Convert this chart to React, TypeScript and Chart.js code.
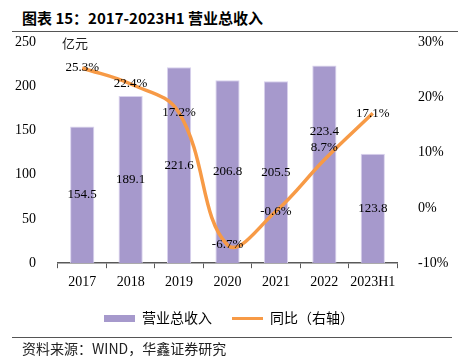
import React, { useEffect, useRef } from "react";
import { Chart, registerables } from "chart.js";
Chart.register(...registerables);

const titleText = "图表 15：2017-2023H1 营业总收入";
const sourceText = "资料来源：WIND，华鑫证券研究";
const unitText = "亿元";
const categories = ["2017", "2018", "2019", "2020", "2021", "2022", "2023H1"];
const revenue = [154.5, 189.1, 221.6, 206.8, 205.5, 223.4, 123.8];
const yoy = [25.3, 22.4, 17.2, -6.7, -0.6, 8.7, 17.1];
const seriesNames = ["营业总收入", "同比（右轴）"];
const leftRange = [0, 250];
const leftStep = 50;
const rightRange = [-10, 30];
const rightStep = 10;

const BAR_COLOR = "#a699cc";
const LINE_COLOR = "#f79a46";
const SERIF = '"Liberation Serif", "Times New Roman", serif';
const CJK = '"Noto Sans CJK SC", "Noto Sans", sans-serif';

// label vertical nudges (px), styling only
const barLabelNudge = [0, 0, 0, 0, 0, -33, 0];
const lineLabelNudge = [0, 0, 0, 0, 0, -12, 0];

function makeSwatch(w: number, h: number, color: string) {
  const c = document.createElement("canvas");
  c.width = w;
  c.height = h;
  const g = c.getContext("2d")!;
  g.fillStyle = color;
  g.fillRect(0, 0, w, h);
  return c;
}

const labelPlugin = {
  id: "valueLabels",
  afterDatasetsDraw(chart: any) {
    const ctx = chart.ctx;
    ctx.save();
    ctx.font = `13px ${SERIF}`;
    ctx.fillStyle = "#000";
    ctx.textAlign = "center";
    ctx.textBaseline = "middle";
    const barMeta = chart.getDatasetMeta(0);
    barMeta.data.forEach((el: any, i: number) => {
      const p = el.getProps(["x", "y", "base"], true);
      ctx.fillText(revenue[i].toFixed(1), p.x, (p.y + p.base) / 2 + barLabelNudge[i]);
    });
    const lineMeta = chart.getDatasetMeta(1);
    lineMeta.data.forEach((el: any, i: number) => {
      const p = el.getProps(["x", "y"], true);
      ctx.fillText(yoy[i].toFixed(1) + "%", p.x, p.y + lineLabelNudge[i]);
    });
    // unit label
    ctx.font = `13px ${CJK}`;
    ctx.textAlign = "left";
    ctx.fillStyle = "#222";
    ctx.fillText(unitText, chart.chartArea.left + 4, chart.chartArea.top + 1);
    ctx.restore();
  },
};

export default function App() {
  const ref = useRef<HTMLCanvasElement | null>(null);
  useEffect(() => {
    if (!ref.current) return;
    const swatches = [makeSwatch(31, 7, BAR_COLOR), makeSwatch(31, 3, LINE_COLOR)];
    const chart = new Chart(ref.current, {
      type: "bar",
      data: {
        labels: categories,
        datasets: [
          {
            type: "bar",
            label: seriesNames[0],
            data: revenue,
            backgroundColor: BAR_COLOR,
            borderColor: "#d9d2ee",
            borderWidth: 1,
            yAxisID: "y",
            barPercentage: 0.5,
            categoryPercentage: 1,
            order: 2,
          },
          {
            type: "line",
            label: seriesNames[1],
            data: yoy,
            borderColor: LINE_COLOR,
            backgroundColor: LINE_COLOR,
            borderWidth: 3.5,
            pointRadius: 0,
            tension: 0.4,
            yAxisID: "y1",
            order: 1,
          },
        ],
      } as any,
      options: {
        animation: false,
        responsive: false,
        layout: { padding: { top: 42, left: 0, right: 0, bottom: 23 } },
        plugins: {
          tooltip: { enabled: false },
          legend: {
            position: "bottom",
            labels: {
              usePointStyle: true,
              pointStyleWidth: 31,
              boxHeight: 14,
              padding: 20,
              color: "#000",
              font: { family: CJK, size: 14 },
              generateLabels: (c: any) =>
                c.data.datasets.map((d: any, i: number) => ({
                  text: d.label,
                  pointStyle: swatches[i],
                  fillStyle: i === 0 ? BAR_COLOR : LINE_COLOR,
                  strokeStyle: "transparent",
                  lineWidth: 0,
                  datasetIndex: i,
                  hidden: false,
                })),
            },
          },
        },
        scales: {
          x: {
            offset: true,
            grid: {
              display: true,
              drawOnChartArea: false,
              offset: true,
              tickLength: 5,
              color: "#595959",
              lineWidth: 1,
            },
            border: { display: true, color: "#595959", width: 1.5 },
            ticks: { color: "#000", font: { family: SERIF, size: 14 }, padding: 6, maxRotation: 0, autoSkip: false },
            afterFit: (s: any) => {
              s.height -= 6;
            },
          },
          y: {
            position: "left",
            min: leftRange[0],
            max: leftRange[1],
            grid: { display: false },
            border: { display: false },
            ticks: { stepSize: leftStep, color: "#000", font: { family: SERIF, size: 14 }, padding: 14 },
            afterFit: (s: any) => {
              s.width = 58;
            },
          },
          y1: {
            position: "right",
            min: rightRange[0],
            max: rightRange[1],
            grid: { display: false },
            border: { display: false },
            ticks: {
              stepSize: rightStep,
              color: "#000",
              font: { family: SERIF, size: 14 },
              padding: 13,
              callback: (v: any) => v + "%",
            },
            afterFit: (s: any) => {
              s.width = 458 - 397;
            },
          },
        },
      } as any,
      plugins: [labelPlugin],
    });
    return () => chart.destroy();
  }, []);

  return (
    <div style={{ position: "absolute", left: 0, top: 0, width: 458, height: 358, background: "#fff", overflow: "hidden" }}>
      <div
        style={{
          position: "absolute",
          left: 22,
          top: 8,
          fontFamily: CJK,
          fontWeight: 700,
          fontSize: 15,
          lineHeight: "20px",
          color: "#000",
          whiteSpace: "nowrap",
        }}
      >
        {titleText}
      </div>
      <div style={{ position: "absolute", left: 12, top: 31, width: 446, height: 0, borderTop: "1.5px solid #555" }} />
      <canvas ref={ref} width={458} height={358} style={{ position: "absolute", left: 0, top: 0 }} />
      <div style={{ position: "absolute", left: 12, top: 337, width: 440, height: 0, borderTop: "1.5px solid #555" }} />
      <div
        style={{
          position: "absolute",
          left: 22,
          top: 339,
          fontFamily: CJK,
          fontSize: 14,
          lineHeight: "19px",
          color: "#222",
          whiteSpace: "nowrap",
        }}
      >
        {sourceText}
      </div>
    </div>
  );
}
